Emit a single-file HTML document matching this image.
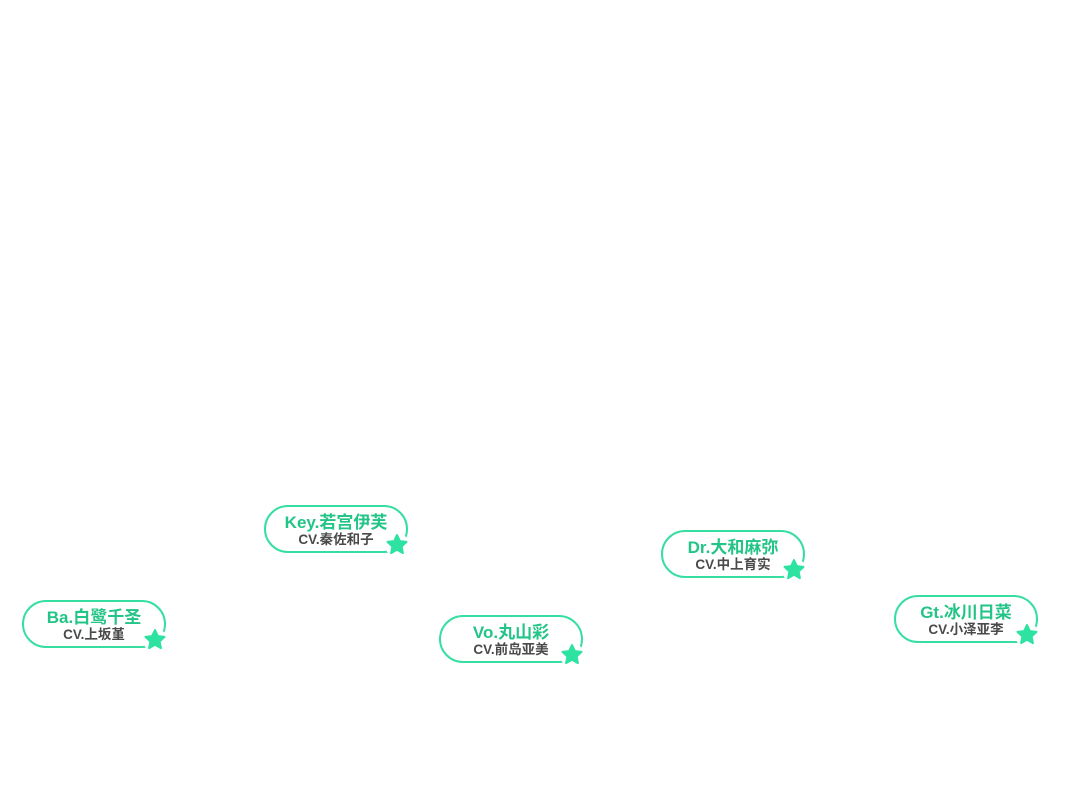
<!DOCTYPE html>
<html><head><meta charset="utf-8"><style>
body{margin:0;width:1080px;height:812px;background:#fff;position:relative;overflow:hidden;font-family:"Liberation Sans","Noto Sans CJK SC",sans-serif}
.p{position:absolute;width:140px;height:44px;border:2px solid #36dea2;border-radius:24px;background:#fff;text-align:center}
.t{position:absolute;left:-10px;right:-10px;top:6px;font-size:17px;font-weight:bold;color:#22c487;line-height:20px}
.s{position:absolute;left:-10px;right:-10px;top:25px;font-size:13.5px;font-weight:bold;color:#4a4a4a;line-height:16px}
</style></head><body>
<div class="p" style="left:264px;top:505px"><div class="t">Key.若宫伊芙</div><div class="s">CV.秦佐和子</div></div>
<div class="p" style="left:22px;top:600px"><div class="t">Ba.白鹭千圣</div><div class="s">CV.上坂堇</div></div>
<div class="p" style="left:439px;top:615px"><div class="t">Vo.丸山彩</div><div class="s">CV.前岛亚美</div></div>
<div class="p" style="left:661px;top:530px"><div class="t">Dr.大和麻弥</div><div class="s">CV.中上育实</div></div>
<div class="p" style="left:894px;top:595px"><div class="t">Gt.冰川日菜</div><div class="s">CV.小泽亚李</div></div>
<svg width="1080" height="812" style="position:absolute;left:0;top:0">
<defs><g id="star"><circle r="12" fill="#fff"/><polygon points="0,-10 2.9,-3.9 9.5,-3.1 4.6,1.5 5.9,8.1 0,4.8 -5.9,8.1 -4.6,1.5 -9.5,-3.1 -2.9,-3.9" fill="#2ee3a2" stroke="#2ee3a2" stroke-width="2" stroke-linejoin="round"/></g></defs>
<use href="#star" x="397" y="545"/>
<use href="#star" x="155" y="640"/>
<use href="#star" x="572" y="655"/>
<use href="#star" x="794" y="570"/>
<use href="#star" x="1027" y="635"/>
</svg>
</body></html>
